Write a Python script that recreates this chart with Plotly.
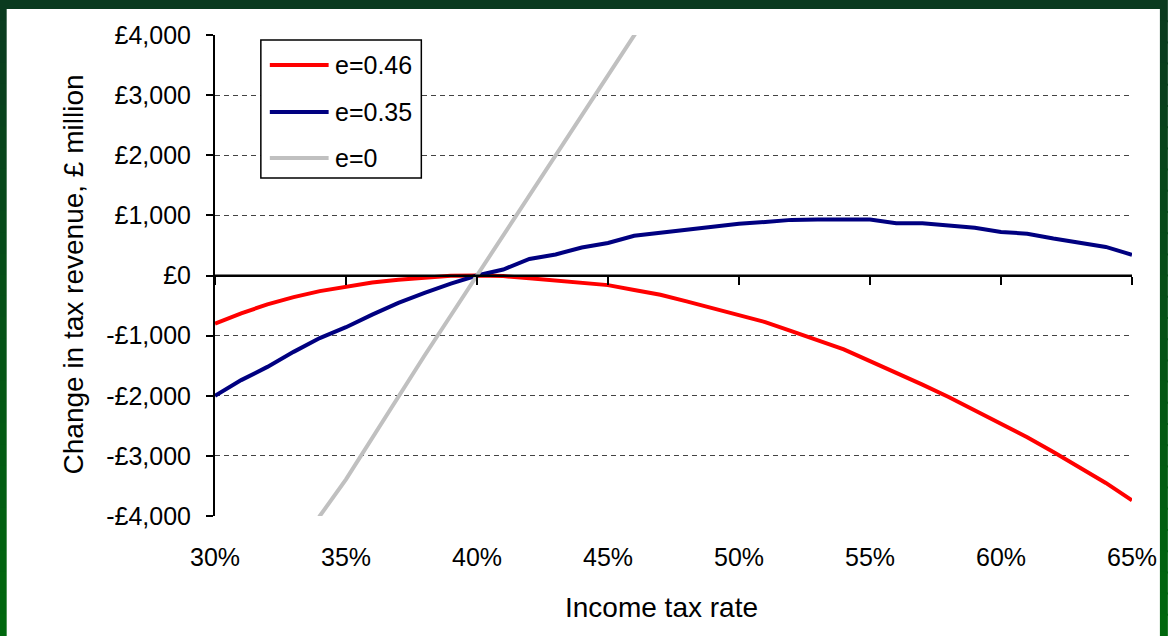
import plotly.graph_objects as go

# ---------------- data ----------------
rates = [0.30, 0.31, 0.32, 0.33, 0.34, 0.35, 0.36, 0.37, 0.38, 0.39, 0.40,
         0.41, 0.42, 0.43, 0.44, 0.45, 0.46, 0.47, 0.48, 0.49, 0.50,
         0.51, 0.52, 0.53, 0.54, 0.55, 0.56, 0.57, 0.58, 0.59, 0.60,
         0.61, 0.62, 0.63, 0.64, 0.65]

e046 = [-800, -630, -480, -360, -260, -190, -115, -70, -35, -5, 0,
        -10, -45, -80, -120, -160, -240, -320, -430, -540, -650,
        -775, -925, -1070, -1230, -1425, -1615, -1815, -2020, -2245, -2480,
        -2690, -2935, -3200, -3450, -3740]

e035 = [-2000, -1740, -1520, -1270, -1040, -860, -650, -455, -290, -135, 0,
        100, 275, 350, 465, 540, 660, 710, 775, 820, 860,
        890, 925, 930, 930, 930, 870, 870, 830, 795, 725,
        695, 615, 540, 475, 345]

rates_e0 = [0.33, 0.34, 0.35, 0.36, 0.37, 0.38, 0.39, 0.40,
            0.41, 0.42, 0.43, 0.44, 0.45, 0.46, 0.47]
e0 = [-4660, -4000, -3390, -2700, -2000, -1330, -665, 0,
      665, 1330, 2000, 2665, 3330, 4000, 4660]

series_names = ["e=0.46", "e=0.35", "e=0"]
series_colors = ["#ff0000", "#000080", "#c0c0c0"]

y_ticks = [4000, 3000, 2000, 1000, 0, -1000, -2000, -3000, -4000]
y_labels = ["£4,000", "£3,000", "£2,000", "£1,000", "£0",
            "-£1,000", "-£2,000", "-£3,000", "-£4,000"]
x_ticks = [0.30, 0.35, 0.40, 0.45, 0.50, 0.55, 0.60, 0.65]
x_labels = ["30%", "35%", "40%", "45%", "50%", "55%", "60%", "65%"]

# ---------------- layout geometry ----------------
W, H = 1169, 636
ML, MR, MT, MB = 215, 34, 35, 120
PW, PH = W - ML - MR, H - MT - MB
FONT = "Arial, Liberation Sans, sans-serif"
TICK_SIZE = 25
TITLE_SIZE = 28


def px(xp):
    return (xp - ML) / PW


def py(yp):
    return (H - MB - yp) / PH


fig = go.Figure()
# zero-line axis trace (draws the category axis across y=0)
fig.add_trace(go.Scatter(x=[0.3, 0.65], y=[0, 0], xaxis="x2", mode="lines",
                         line=dict(color="black", width=2), showlegend=False,
                         hoverinfo="skip"))
fig.add_trace(go.Scatter(x=rates, y=e046, mode="lines", name=series_names[0],
                         line=dict(color=series_colors[0], width=4), showlegend=False))
fig.add_trace(go.Scatter(x=rates, y=e035, mode="lines", name=series_names[1],
                         line=dict(color=series_colors[1], width=4), showlegend=False))
fig.add_trace(go.Scatter(x=rates_e0, y=e0, mode="lines", name=series_names[2],
                         line=dict(color=series_colors[2], width=4), showlegend=False))

shapes = []
# green background gradient
n = 30
top_c = (10, 58, 31)
bot_c = (0, 104, 14)
for i in range(n):
    t = i / (n - 1)
    c = tuple(int(round(top_c[k] + (bot_c[k] - top_c[k]) * t)) for k in range(3))
    shapes.append(dict(type="rect", xref="paper", yref="paper", layer="below",
                       x0=px(-2), x1=px(W + 2), y0=py(H * (i + 1) / n + 1), y1=py(H * i / n - 1),
                       fillcolor="rgb(%d,%d,%d)" % c, line=dict(width=0)))
# white panel
shapes.append(dict(type="rect", xref="paper", yref="paper", layer="below",
                   x0=px(6), x1=px(1163), y0=py(H + 2), y1=py(9),
                   fillcolor="white", line=dict(width=0)))

# legend box
shapes.append(dict(type="rect", xref="paper", yref="paper", layer="above",
                   x0=px(261), x1=px(422), y0=py(178), y1=py(40),
                   fillcolor="white", line=dict(color="black", width=1.5)))
annotations = []
rows = [65, 112, 158]
for name, col, yy in zip(series_names, series_colors, rows):
    shapes.append(dict(type="line", xref="paper", yref="paper", layer="above",
                       x0=px(270), x1=px(329), y0=py(yy), y1=py(yy),
                       line=dict(color=col, width=4)))
    annotations.append(dict(xref="paper", yref="paper", x=px(333), y=py(yy),
                            text=name, showarrow=False, xanchor="left", yanchor="middle",
                            font=dict(family=FONT, size=TICK_SIZE, color="black")))

# axis titles
annotations.append(dict(xref="paper", yref="paper", x=px(73), y=py(274),
                        text="Change in tax revenue, £ million", textangle=-90,
                        showarrow=False, xanchor="center", yanchor="middle",
                        font=dict(family=FONT, size=TITLE_SIZE, color="black")))
annotations.append(dict(xref="paper", yref="paper", x=px(663), y=py(607),
                        text="Income tax rate", showarrow=False,
                        xanchor="center", yanchor="middle",
                        font=dict(family=FONT, size=TITLE_SIZE, color="black")))

fig.update_layout(
    width=W, height=H,
    margin=dict(l=ML, r=MR, t=MT, b=MB, pad=0),
    paper_bgcolor="white",
    plot_bgcolor="rgba(0,0,0,0)",
    shapes=shapes,
    annotations=annotations,
    showlegend=False,
    font=dict(family=FONT, size=TICK_SIZE, color="black"),
    xaxis=dict(range=[0.30, 0.65], tickvals=x_ticks, ticktext=x_labels,
               showgrid=False, zeroline=False, showline=False, ticks="",
               ticklabelstandoff=24,
               tickfont=dict(family=FONT, size=TICK_SIZE, color="black")),
    xaxis2=dict(range=[0.30, 0.65], overlaying="x", anchor="free", position=0.5,
                side="bottom", tickvals=x_ticks, showticklabels=False,
                ticks="outside", ticklen=8, tickwidth=2, tickcolor="black",
                showline=True, linecolor="black", linewidth=2,
                showgrid=False, zeroline=False),
    yaxis=dict(range=[-4000, 4000], tickvals=y_ticks, ticktext=y_labels,
               showgrid=True, gridcolor="#444444", gridwidth=1, griddash="5px,4px",
               zeroline=False, showline=True, linecolor="black", linewidth=2,
               ticks="outside", ticklen=7, tickwidth=2, tickcolor="black",
               ticklabelstandoff=10,
               tickfont=dict(family=FONT, size=TICK_SIZE, color="black")),
)

fig.write_html(
    "out.html",
    config={"displayModeBar": False},
    post_script="document.body.style.margin='0';document.body.style.padding='0';"
                "document.body.style.background='rgb(10,58,31)';",
)
